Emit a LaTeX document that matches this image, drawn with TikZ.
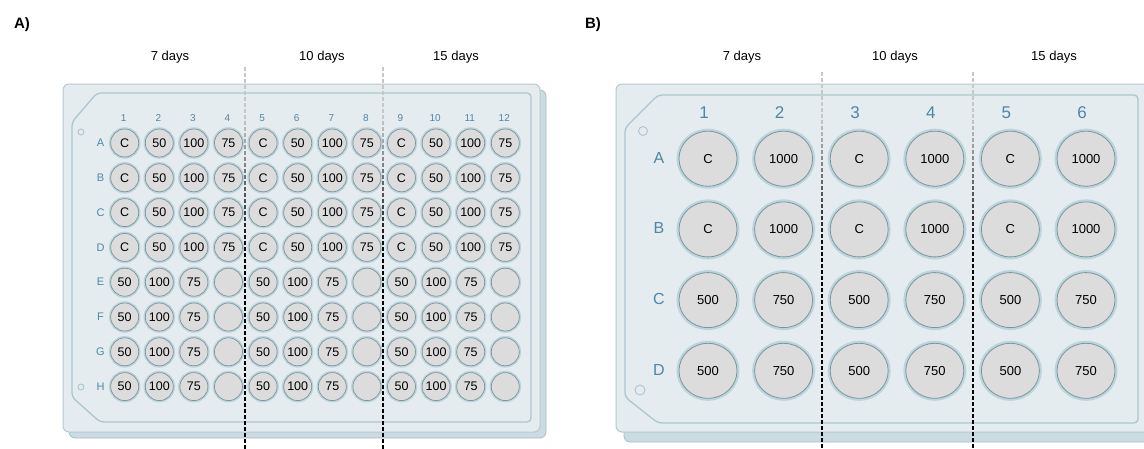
\documentclass[tikz,border=0pt]{standalone}
\usepackage{fontspec}
\setmainfont{Liberation Sans}
\usetikzlibrary{shapes.geometric}
\definecolor{platefill}{HTML}{E4ECEF}
\definecolor{plateline}{HTML}{B4CAD2}
\definecolor{backfill}{HTML}{CADBE1}
\definecolor{backline}{HTML}{A8C0C8}
\definecolor{rimline}{HTML}{ABC6CF}
\definecolor{lblblue}{HTML}{4F86A6}
\definecolor{wellfill}{HTML}{DCDCDC}
\definecolor{wellline}{HTML}{7D959C}
\definecolor{halo}{HTML}{BCD5DC}
\tikzset{
  plateface/.style={fill=platefill, draw=plateline, line width=1pt, rounded corners=6pt},
  plateback/.style={fill=backfill, draw=backline, line width=0.8pt, rounded corners=6pt},
  rim/.style={draw=rimline, line width=1.3pt, rounded corners=4pt},
  hole/.style={draw=rimline, line width=0.9pt},
  wellA/.style={circle, minimum size=28pt, inner sep=0pt, fill=wellfill, draw=wellline, line width=0.7pt,
    preaction={draw=halo, line width=3.6pt}, font=\fontsize{12.5}{13}\selectfont},
  wellB/.style={ellipse, minimum width=58pt, minimum height=55pt, inner sep=0pt, fill=wellfill, draw=wellline, line width=0.8pt,
    preaction={draw=halo, line width=5pt}, font=\fontsize{13}{14}\selectfont},
  collblA/.style={text=lblblue, font=\fontsize{10}{11}\selectfont, inner sep=0pt},
  rowlblA/.style={text=lblblue, font=\fontsize{11}{12}\selectfont, inner sep=0pt},
  collblB/.style={text=lblblue, font=\fontsize{17}{18}\selectfont, inner sep=0pt},
  rowlblB/.style={text=lblblue, font=\fontsize{16}{17}\selectfont, inner sep=0pt},
  daylbl/.style={font=\fontsize{13}{14}\selectfont, inner sep=0pt},
  panellbl/.style={font=\fontsize{15}{16}\selectfont\bfseries, inner sep=0pt},
  sepline/.style={line width=1.6pt},
}
\begin{document}
\begin{tikzpicture}[x=1pt,y=-1pt]
\useasboundingbox (0,0) rectangle (1144,448);
\clip (0,0) rectangle (1144,448);
\fill[white] (0,0) rectangle (1144,448);

% ---------------- Panel A ----------------
\node[panellbl] (pA) at (22,25) {A)};
\node[daylbl] (dA1) at (170,57) {7 days};
\node[daylbl] (dA2) at (322,57) {10 days};
\node[daylbl] (dA3) at (456,57) {15 days};

\draw[plateback] (69,90) rectangle (546,438);
\draw[plateface] (63,84) rectangle (540,432);
\draw[rim] (72,122) -- (97,93) -- (531,93) -- (531,422) -- (100,422) -- (72,397) -- cycle;
\draw[hole] (81,132) circle (3pt);
\draw[hole] (81,387) circle (3pt);

\foreach \c in {1,...,12} {
  \pgfmathsetmacro\xx{124.7+(\c-1)*34.6}
  \node[collblA] (cA\c) at (\xx-1,118) {\c};
}
\foreach \r [count=\i] in {A,B,C,D,E,F,G,H} {
  \pgfmathsetmacro\yy{143+(\i-1)*34.8}
  \node[rowlblA] (rA\r) at (100.5,\yy) {\r};
  \foreach \c in {1,...,12} {
    \pgfmathsetmacro\xx{124.7+(\c-1)*34.6}
    \pgfmathtruncatemacro\m{mod(\c-1,4)}
    \ifnum\i<5
      \node[wellA] (wA\r\c) at (\xx,\yy) {\ifcase\m\relax C\or 50\or 100\or 75\fi};
    \else
      \node[wellA] (wA\r\c) at (\xx,\yy) {\ifcase\m\relax 50\or 100\or 75\or \phantom{0}\fi};
    \fi
  }
}

% ---------------- Panel B ----------------
\node[panellbl] (pB) at (593,25) {B)};
\node[daylbl] (dB1) at (742,57) {7 days};
\node[daylbl] (dB2) at (895,57) {10 days};
\node[daylbl] (dB3) at (1054,57) {15 days};

\draw[plateback] (624,94) rectangle (1160,442);
\draw[plateface] (616,84) rectangle (1152,432);
\draw[rim] (625,128) -- (658,95) -- (1138,95) -- (1138,423) -- (658,423) -- (625,397) -- cycle;
\draw[hole] (643,131) circle (4.5pt);
\draw[hole] (640,390) circle (5pt);

\foreach \c in {1,...,6} {
  \pgfmathsetmacro\xx{708+(\c-1)*75.6}
  \node[collblB] (cB\c) at (\xx-4,113) {\c};
}
\foreach \r [count=\i] in {A,B,C,D} {
  \pgfmathsetmacro\yy{158.7+(\i-1)*70.7}
  \node[rowlblB] (rB\r) at (659,\yy-1) {\r};
  \foreach \c in {1,...,6} {
    \pgfmathsetmacro\xx{708+(\c-1)*75.6}
    \pgfmathtruncatemacro\m{mod(\c-1,2)}
    \ifnum\i<3
      \node[wellB] (wB\r\c) at (\xx,\yy) {\ifcase\m\relax C\or 1000\fi};
    \else
      \node[wellB] (wB\r\c) at (\xx,\yy) {\ifcase\m\relax 500\or 750\fi};
    \fi
  }
}

% ---------------- separator lines ----------------
\foreach \sx/\st in {245/67, 383/67, 822/72, 973/72} {
  \foreach \k in {0,...,64} {
    \pgfmathsetmacro\ya{\st+\k*6}
    \pgfmathtruncatemacro\p{min(100,max(22,22+(\ya-115)/135*78))}
    \draw[sepline, draw=black!\p] (\sx,\ya) -- (\sx,\ya+3.6);
  }
}
\end{tikzpicture}
\end{document}
